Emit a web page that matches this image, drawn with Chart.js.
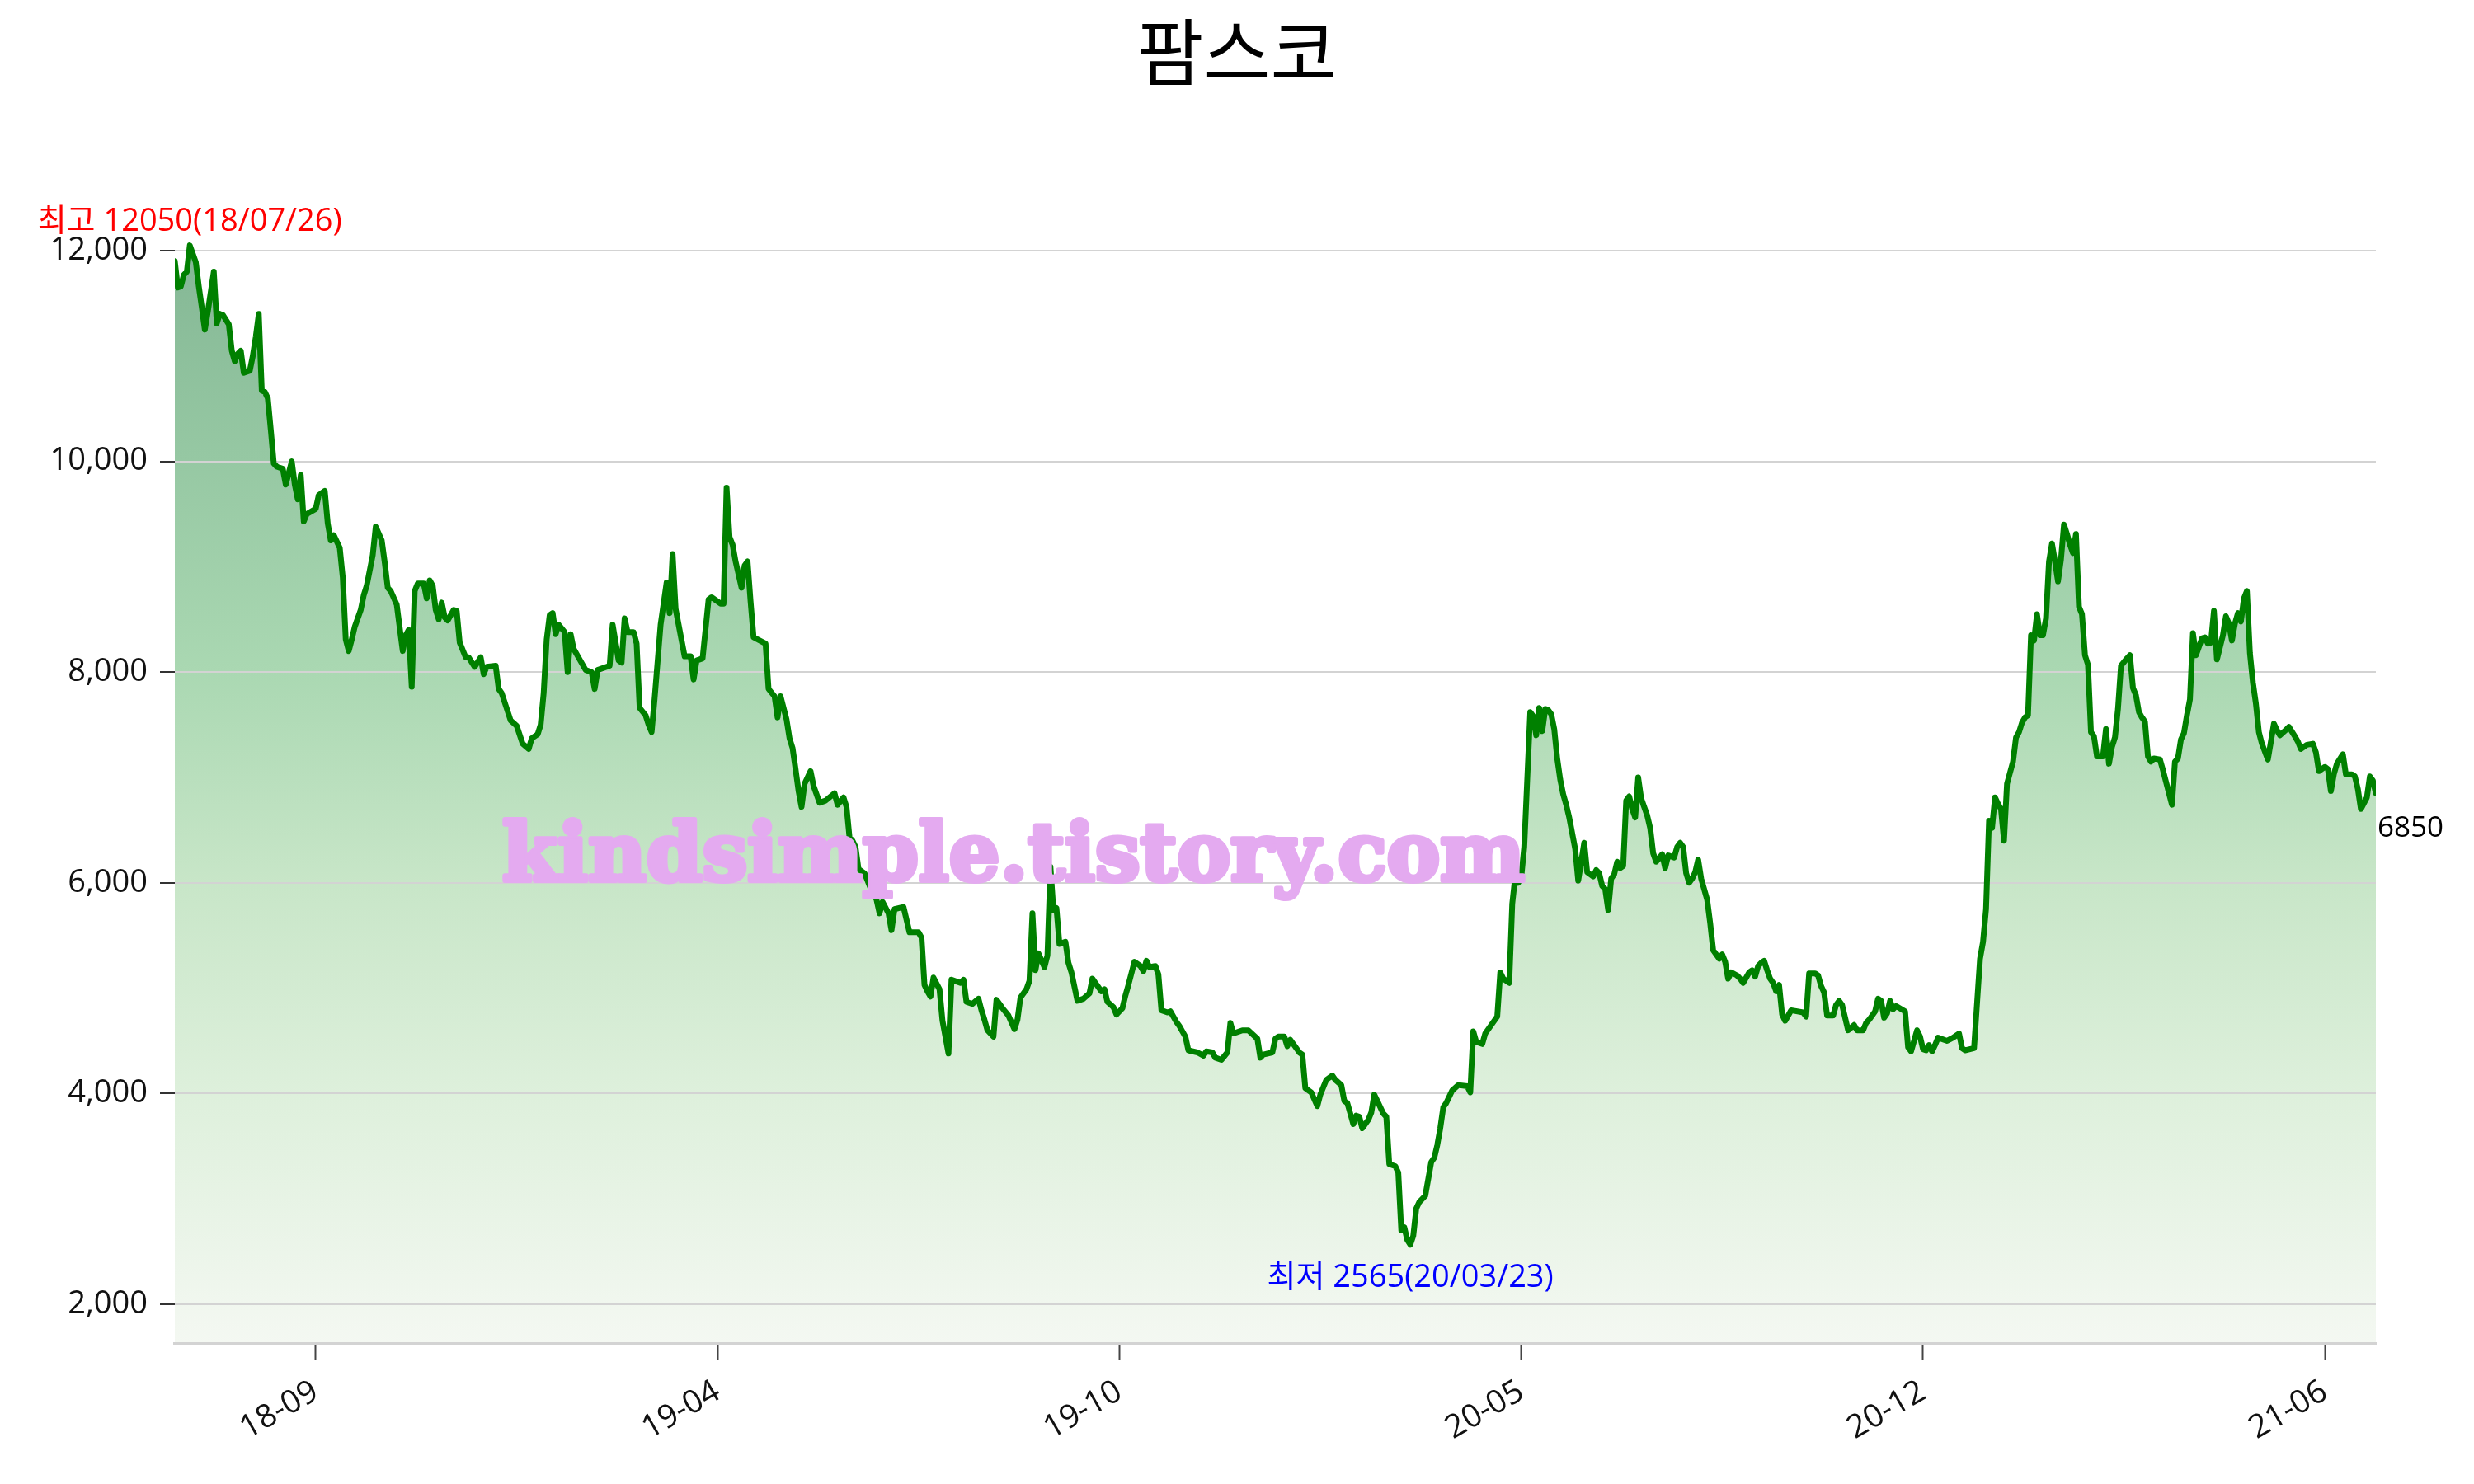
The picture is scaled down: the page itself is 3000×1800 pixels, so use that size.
<!DOCTYPE html>
<html>
<head>
<meta charset="utf-8">
<title>팜스코</title>
<script src="https://cdn.jsdelivr.net/npm/chart.js@4.4.1/dist/chart.umd.min.js"></script>
<style>
  html, body { margin: 0; padding: 0; background: #fff; }
  #chart { display: block; }
</style>
</head>
<body>
<canvas id="chart" width="3000" height="1800"></canvas>
<script>
// 팜스코 daily close (x = trading-day index)
const days = [
  0, 1, 2, 3, 4, 5, 7, 8, 9, 10, 11, 13, 14, 15, 16, 18, 19, 20, 21, 22,
  23, 25, 26, 27, 28, 29, 30, 31, 32, 33, 34, 36, 37, 39, 40, 41, 42, 43, 44, 47,
  48, 50, 51, 52, 53, 55, 56, 57, 58, 59, 60, 62, 63, 64, 66, 67, 69, 70, 71, 72,
  74, 75, 76, 77, 78, 79, 80, 81, 83, 84, 85, 86, 87, 88, 89, 90, 91, 93, 94, 95,
  97, 98, 100, 102, 103, 104, 107, 108, 109, 112, 114, 116, 118, 119, 121, 122, 123, 124, 125, 126,
  127, 128, 130, 131, 132, 133, 137, 139, 140, 141, 145, 146, 148, 149, 150, 151, 153, 154, 155, 157,
  158, 159, 160, 162, 164, 165, 166, 167, 170, 172, 173, 174, 176, 178, 179, 182, 183, 184, 185, 186,
  187, 189, 190, 191, 192, 193, 197, 198, 200, 201, 202, 204, 205, 206, 207, 208, 209, 210, 212, 213,
  215, 217, 220, 221, 223, 224, 225, 226, 227, 228, 230, 232, 234, 235, 236, 238, 239, 240, 243, 245,
  248, 249, 250, 251, 252, 253, 255, 256, 258, 259, 262, 263, 264, 266, 268, 269, 270, 271, 273, 274,
  276, 278, 280, 281, 282, 284, 285, 286, 287, 288, 290, 291, 292, 293, 294, 295, 297, 298, 299, 301,
  303, 305, 306, 307, 309, 310, 311, 313, 314, 316, 317, 318, 320, 322, 323, 324, 325, 327, 328, 329,
  331, 332, 334, 335, 337, 338, 341, 343, 344, 346, 347, 349, 351, 352, 353, 356, 358, 361, 362, 363,
  366, 367, 368, 370, 371, 372, 375, 376, 377, 379, 381, 382, 384, 386, 387, 389, 390, 391, 392, 393,
  394, 395, 396, 398, 399, 400, 401, 403, 404, 405, 407, 408, 409, 410, 411, 412, 413, 414, 415, 417,
  418, 419, 420, 421, 422, 423, 424, 426, 428, 431, 432, 433, 434, 436, 437, 439, 441, 442, 443, 445,
  446, 447, 448, 449, 450, 452, 453, 454, 455, 456, 457, 458, 459, 460, 461, 462, 463, 464, 465, 467,
  468, 470, 471, 473, 474, 475, 476, 477, 478, 479, 480, 481, 482, 483, 484, 485, 486, 487, 488, 489,
  490, 491, 492, 493, 494, 496, 497, 498, 500, 501, 502, 503, 504, 505, 506, 507, 508, 509, 511, 512,
  513, 515, 516, 517, 518, 519, 521, 522, 523, 525, 526, 527, 528, 529, 530, 531, 532, 533, 534, 535,
  536, 537, 539, 543, 544, 545, 547, 548, 549, 550, 551, 553, 554, 555, 556, 557, 558, 560, 561, 563,
  564, 565, 567, 568, 569, 570, 571, 572, 573, 574, 577, 578, 579, 581, 582, 583, 584, 585, 586, 587,
  588, 591, 593, 595, 596, 597, 600, 602, 603, 604, 605, 606, 607, 608, 609, 610, 611, 613, 614, 615,
  616, 617, 618, 619, 620, 621, 622, 623, 624, 625, 626, 627, 628, 629, 630, 631, 632, 633, 634, 635,
  636, 637, 638, 639, 640, 641, 643, 644, 645, 646, 647, 648, 649, 651, 652, 653, 654, 655, 656, 657,
  658, 659, 660, 662, 663, 666, 667, 668, 669, 670, 671, 672, 673, 674, 676, 677, 678, 679, 680, 681,
  683, 684, 685, 686, 687, 688, 689, 690, 691, 692, 693, 694, 695, 696, 698, 700, 701, 702, 704, 705,
  707, 708, 709, 711, 713, 714, 715, 717, 718, 719, 720, 721, 723, 724, 726, 727, 728, 729, 731, 732,
  733, 734
];
const prices = [
  11900, 11650, 11660, 11770, 11800, 12050, 11890, 11660, 11460, 11250, 11420, 11800, 11310, 11400, 11390, 11300, 11050, 10950, 11020, 11050,
  10840, 10860, 11000, 11180, 11400, 10670, 10660, 10600, 10300, 9980, 9950, 9930, 9780, 10000, 9780, 9640, 9870, 9430, 9500, 9550,
  9680, 9720, 9410, 9250, 9300, 9180, 8900, 8310, 8200, 8310, 8430, 8590, 8730, 8820, 9110, 9380, 9250, 9040, 8800, 8770,
  8640, 8420, 8200, 8350, 8400, 7860, 8770, 8840, 8840, 8700, 8870, 8820, 8590, 8500, 8660, 8520, 8490, 8590, 8580, 8280,
  8140, 8140, 8050, 8140, 7980, 8050, 8060, 7840, 7800, 7540, 7490, 7320, 7270, 7370, 7410, 7500, 7800, 8310, 8540, 8560,
  8360, 8450, 8380, 8000, 8360, 8220, 8020, 8000, 7840, 8020, 8060, 8450, 8110, 8090, 8510, 8380, 8380, 8270, 7660, 7590,
  7500, 7430, 7750, 8450, 8850, 8560, 9120, 8600, 8150, 8150, 7930, 8110, 8130, 8690, 8710, 8650, 8650, 9750, 9280, 9210,
  9050, 8800, 9010, 9050, 8670, 8330, 8270, 7840, 7770, 7570, 7770, 7550, 7370, 7280, 7080, 6870, 6720, 6940, 7060, 6920,
  6760, 6780, 6850, 6740, 6810, 6720, 6430, 6400, 6340, 6130, 6090, 5950, 5840, 5710, 5820, 5710, 5550, 5750, 5770, 5530,
  5530, 5480, 5030, 4970, 4920, 5100, 4990, 4690, 4380, 5080, 5050, 5080, 4870, 4850, 4900, 4790, 4700, 4600, 4540, 4890,
  4810, 4740, 4610, 4700, 4910, 4990, 5070, 5710, 5170, 5330, 5200, 5310, 6150, 5740, 5760, 5420, 5440, 5240, 5150, 4880,
  4900, 4950, 5090, 5050, 4970, 4990, 4870, 4820, 4750, 4810, 4930, 5030, 5250, 5210, 5160, 5260, 5200, 5210, 5130, 4790,
  4770, 4780, 4680, 4640, 4540, 4410, 4390, 4360, 4400, 4390, 4340, 4320, 4390, 4670, 4570, 4600, 4600, 4520, 4340, 4370,
  4390, 4520, 4540, 4540, 4450, 4510, 4390, 4370, 4050, 4010, 3880, 3990, 4130, 4170, 4130, 4080, 3930, 3910, 3810, 3710,
  3790, 3780, 3670, 3750, 3820, 3990, 3930, 3810, 3780, 3330, 3310, 3250, 2700, 2730, 2610, 2565, 2650, 2910, 2970, 3030,
  3190, 3350, 3390, 3510, 3670, 3870, 3910, 4030, 4080, 4070, 4010, 4590, 4490, 4470, 4570, 4650, 4730, 5150, 5090, 5050,
  5800, 6060, 6000, 6050, 6340, 7620, 7580, 7400, 7660, 7440, 7650, 7640, 7600, 7460, 7180, 6980, 6840, 6740, 6620, 6320,
  6020, 6380, 6100, 6060, 6120, 6090, 5970, 5940, 5740, 6040, 6080, 6200, 6140, 6160, 6780, 6820, 6700, 6620, 7000, 6800,
  6720, 6640, 6520, 6280, 6200, 6270, 6140, 6260, 6240, 6340, 6380, 6340, 6090, 6000, 6040, 6100, 6220, 6040, 5840, 5620,
  5360, 5280, 5320, 5250, 5090, 5150, 5120, 5090, 5050, 5150, 5170, 5110, 5210, 5240, 5260, 5170, 5090, 5050, 4970, 5030,
  4750, 4690, 4790, 4770, 4730, 5140, 5140, 5120, 5020, 4960, 4740, 4740, 4840, 4880, 4840, 4720, 4600, 4650, 4600, 4600,
  4670, 4700, 4780, 4900, 4880, 4720, 4760, 4880, 4800, 4830, 4780, 4440, 4400, 4600, 4540, 4420, 4410, 4460, 4400, 4460,
  4530, 4500, 4530, 4570, 4430, 4410, 4430, 5280, 5440, 5750, 6590, 6520, 6810, 6750, 6700, 6400, 6940, 7150, 7380, 7430,
  7520, 7570, 7590, 8350, 8300, 8550, 8350, 8350, 8510, 9050, 9220, 9050, 8860, 9070, 9400, 9310, 9210, 9130, 9310, 8620,
  8550, 8160, 8070, 7430, 7390, 7200, 7200, 7460, 7130, 7290, 7380, 7650, 8060, 8130, 8160, 7850, 7780, 7620, 7570, 7530,
  7200, 7150, 7180, 7170, 7070, 6740, 7150, 7180, 7360, 7420, 7590, 7740, 8370, 8160, 8320, 8330, 8270, 8280, 8580, 8120,
  8350, 8530, 8460, 8300, 8460, 8560, 8480, 8700, 8770, 8180, 7900, 7700, 7430, 7320, 7170, 7510, 7450, 7400, 7450, 7480,
  7390, 7340, 7270, 7310, 7320, 7240, 7060, 7100, 7080, 6870, 7030, 7130, 7220, 7030, 7030, 7010, 6890, 6700, 6810, 7010,
  6970, 6850
];

const tickDays = [47, 181, 315, 449, 583, 717];
const tickLabels = ['18-09', '19-04', '19-10', '20-05', '20-12', '21-06'];
const yTicks = [2000, 4000, 6000, 8000, 10000, 12000];

const chartTitle = '팜스코';
const highDate = '18/07/26';
const lowDate = '20/03/23';
const watermark = 'kindsimple.tistory.com';

const FONT = "'Open Sans', 'Noto Sans CJK KR', sans-serif";

const hi = prices.indexOf(Math.max(...prices));
const lo = prices.indexOf(Math.min(...prices));
const last = prices.length - 1;

function fillGradient(c) {
  const area = c.chart.chartArea;
  if (!area) return 'rgba(0,128,0,0.3)';
  const g = c.chart.ctx.createLinearGradient(0, area.top, 0, area.bottom);
  g.addColorStop(0, 'rgb(126,178,144)');
  g.addColorStop(0.1, 'rgb(135,186,151)');
  g.addColorStop(0.25, 'rgb(150,200,163)');
  g.addColorStop(0.43, 'rgb(170,216,178)');
  g.addColorStop(0.61, 'rgb(200,230,200)');
  g.addColorStop(0.79, 'rgb(222,240,220)');
  g.addColorStop(1, 'rgb(244,248,242)');
  return g;
}

// title, high/low/last notes and the blog watermark
const textLayer = {
  id: 'textLayer',
  afterDatasetsDraw(chart) {
    const { ctx, scales: { x, y } } = chart;
    ctx.save();

    ctx.fillStyle = '#000';
    ctx.font = `88px 'Noto Sans CJK KR', sans-serif`;
    ctx.textAlign = 'center';
    ctx.textBaseline = 'middle';
    ctx.fillText(chartTitle, chart.width / 2, 63);

    ctx.font = `38px ${FONT}`;
    ctx.textBaseline = 'alphabetic';
    ctx.fillStyle = '#ff0000';
    ctx.fillText(`최고 ${prices[hi]}(${highDate})`, x.getPixelForValue(days[hi]), y.getPixelForValue(prices[hi]) - 18);

    ctx.fillStyle = '#0000ff';
    ctx.fillText(`최저 ${prices[lo]}(${lowDate})`, x.getPixelForValue(days[lo]), y.getPixelForValue(prices[lo]) + 51);

    ctx.fillStyle = '#000';
    ctx.textAlign = 'left';
    ctx.font = `35px ${FONT}`;
    ctx.fillText(String(prices[last]), x.getPixelForValue(days[last]) + 2, y.getPixelForValue(prices[last]) + 53);

    // watermark sits on top of the line, like the original
    ctx.font = `bold 90px 'DejaVu Serif', serif`;
    const w = ctx.measureText(watermark).width;
    const size = 90 * 1240 / w;
    ctx.font = `bold ${size}px 'DejaVu Serif', serif`;
    ctx.fillStyle = 'rgb(228,170,240)';
    ctx.strokeStyle = 'rgb(228,170,240)';
    ctx.lineWidth = 6;
    ctx.lineJoin = 'round';
    ctx.textAlign = 'center';
    ctx.strokeText(watermark, 1229, 1068);
    ctx.fillText(watermark, 1229, 1068);

    ctx.restore();
  }
};

new Chart(document.getElementById('chart'), {
  type: 'line',
  data: {
    datasets: [{
      data: days.map((d, i) => ({ x: d, y: prices[i] })),
      borderColor: 'green',
      borderWidth: 7,
      borderJoinStyle: 'round',
      borderCapStyle: 'round',
      pointRadius: 0,
      tension: 0,
      fill: 'start',
      backgroundColor: fillGradient
    }]
  },
  options: {
    responsive: false,
    animation: false,
    devicePixelRatio: 1,
    layout: { padding: { top: 200, right: 119, left: 0, bottom: 0 } },
    plugins: {
      legend: { display: false },
      tooltip: { enabled: false },
      filler: { drawTime: 'beforeDraw' }
    },
    scales: {
      x: {
        type: 'linear',
        min: 0,
        max: 734,
        afterBuildTicks: s => { s.ticks = tickDays.map(v => ({ value: v })); },
        afterFit: s => { s.height = 170; },
        ticks: {
          autoSkip: false,
          minRotation: 30,
          maxRotation: 30,
          padding: 15,
          color: '#111',
          font: { size: 39, family: FONT },
          callback: v => tickLabels[tickDays.indexOf(v)] ?? ''
        },
        grid: { drawOnChartArea: false, drawTicks: true, tickLength: 20, tickColor: '#444', tickWidth: 2 },
        border: { display: true, color: '#d3d3d3', width: 4 }
      },
      y: {
        min: 1624,
        max: 12814,
        afterBuildTicks: s => { s.ticks = yTicks.map(v => ({ value: v })); },
        afterFit: s => { s.width = 212; },
        ticks: {
          padding: 15,
          color: '#111',
          font: { size: 38, family: FONT },
          callback: v => v.toLocaleString('en-US')
        },
        grid: { color: '#d3d3d3', lineWidth: 2, tickLength: 18, tickColor: '#333', tickWidth: 2 },
        border: { display: false }
      }
    }
  },
  plugins: [textLayer]
});
</script>
</body>
</html>
